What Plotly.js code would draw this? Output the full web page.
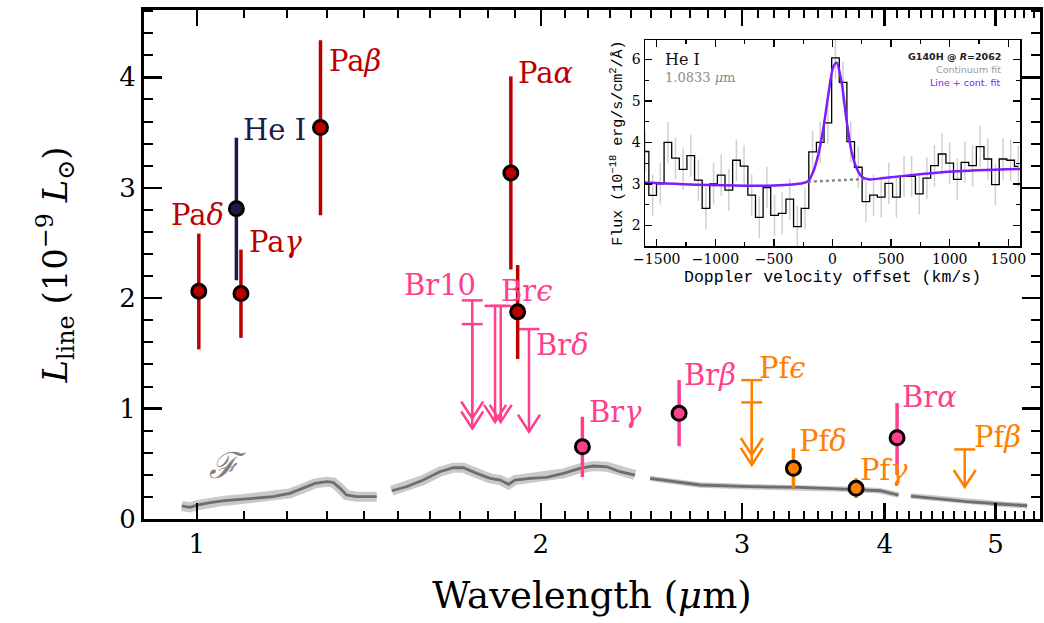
<!DOCTYPE html>
<html><head><meta charset="utf-8">
<script src="https://cdn.plot.ly/plotly-3.0.1.min.js"></script>
<style>html,body{margin:0;padding:0;background:#fff}</style>
</head><body><div id="chart" style="width:1044px;height:623px"></div>
<script>
// ---------- Main panel data ----------
// Paschen (detections), incl. blended point near 1.91 um
const paWave = [1.004, 1.093, 1.283, 1.883, 1.909];
const paLum  = [2.063, 2.042, 3.545, 3.134, 1.876];
const paHi   = [2.585, 2.44, 4.335, 4.009, 2.30];
const paLo   = [1.536, 1.64, 2.751, 2.26, 1.45];
// He I
const heWave = [1.083];
const heLum  = [2.81];
const heHi   = [3.454];
const heLo   = [2.163];
// Brackett detections
const brWave = [2.175, 2.643, 4.101];
const brLum  = [0.654, 0.957, 0.736];
const brHi   = [0.926, 1.258, 1.05];
const brLo   = [0.38, 0.66, 0.40];
// Pfund detections
const pfWave = [3.328, 3.776];
const pfLum  = [0.459, 0.278];
const pfHi   = [0.64, 0.37];
const pfLo   = [0.28, 0.19];
// Upper limits (cap value and arrow tip)
const brLimWave = [1.742, 1.742, 1.824, 1.845, 1.953];
const brLimTop  = [1.98, 1.765, 1.93, 1.93, 1.72];
const brLimTip  = [0.91, 0.82, 0.88, 0.88, 0.79];
const pfLimWave = [3.06, 3.06, 4.70];
const pfLimTop  = [1.258, 1.056, 0.63];
const pfLimTip  = [0.58, 0.49, 0.29];
// Scaled spectrum F (gaps between detector segments)
const specWave = [0.970,0.986,1.003,1.027,1.058,1.091,1.128,1.166,1.206,1.239,1.269,1.299,1.316,1.335,1.352,1.380,1.437,null,
  1.481,1.526,1.578,1.632,1.677,1.711,1.758,1.806,1.843,1.874,1.899,1.957,2.024,2.094,2.164,2.223,2.285,2.346,2.418,null,
  2.493,2.62,2.757,3.05,3.373,3.73,3.963,4.113,null,
  4.217,4.414,4.72,5.05,5.33];
const specFlux = [0.118,0.106,0.127,0.148,0.166,0.178,0.19,0.202,0.232,0.278,0.323,0.338,0.332,0.278,0.217,0.202,0.202,null,
  0.256,0.292,0.353,0.428,0.464,0.464,0.413,0.368,0.353,0.314,0.353,0.368,0.377,0.413,0.459,0.48,0.473,0.428,0.398,null,
  0.368,0.335,0.308,0.293,0.287,0.269,0.256,0.217,null,
  0.208,0.187,0.157,0.136,0.12];
const xTickVals = [1, 2, 3, 4, 5];
const xTickText = ['1', '2', '3', '4', '5'];

// Line labels
const labelText  = ['Pa<i>δ</i>','He I','Pa<i>γ</i>','Pa<i>β</i>','Pa<i>α</i>','Br10','Br<i>ϵ</i>','Br<i>δ</i>','Br<i>γ</i>','Br<i>β</i>','Pf<i>ϵ</i>','Pf<i>δ</i>','Pf<i>γ</i>','Br<i>α</i>','Pf<i>β</i>'];
const labelGroup = ['pa','he','pa','pa','pa','br','br','br','br','br','pf','pf','pf','br','pf'];
const labelWave  = [1.002,1.170,1.172,1.375,2.021,1.632,1.945,2.089,2.327,2.812,3.253,3.534,3.993,4.381,5.016];
const labelY     = [2.751,3.52,2.507,4.145,4.036,2.118,2.063,1.575,0.968,1.303,1.367,0.706,0.443,1.104,0.742];

// ---------- Inset data (He I 1.0833 um) ----------
const velBins = [-1600,-1535,-1470,-1405,-1340,-1275,-1210,-1145,-1080,-1015,-950,-885,-820,-755,-690,-625,-560,-495,-430,-365,
  -300,-235,-170,-105,-40,25,90,155,220,285,350,415,480,545,610,675,740,805,870,935,1000,1065,1130,1195,1260,1325,1390,1455,1520,1585];
const fluxBins = [3.78,2.72,3.0,4.0,3.62,3.35,3.68,3.09,2.41,3.0,3.21,2.85,3.57,3.43,2.73,2.19,2.91,2.24,2.29,2.63,
  1.97,2.41,3.77,4.0,4.47,6.04,5.45,4.02,3.40,2.57,2.73,2.68,3.01,2.68,3.18,3.18,2.76,3.14,3.44,3.72,3.5,3.11,3.52,3.44,3.9,3.6,2.98,3.6,3.57,3.42];
const fitVel  = [-1600,-1070,-500,-250,-207,-164,-122,-79,-36,6,35,77,119,162,205,247,304,460,744,1028,1600];
const fitFlux = [3.03,2.97,2.96,3.02,3.07,3.30,3.70,4.33,5.15,5.82,5.92,5.45,4.55,3.78,3.38,3.18,3.11,3.15,3.23,3.30,3.36];
const contVel  = [-210, 300];
const contFlux = [3.05, 3.12];

// ---------- styling ----------
const COL = {pa:'#bb0000', he:'#1b1b4b', br:'#ff3f8e', pf:'#ff7f00'};
const SERIF = 'DejaVu Serif';
const MONO = 'Liberation Mono';

function errTrace(wave, lum, hi, lo, color, name) {
  return {
    x: wave, y: lum, type: 'scatter', mode: 'markers', name: name, showlegend: false,
    xaxis: 'x', yaxis: 'y',
    error_y: {type: 'data', symmetric: false,
      array: hi.map((h, i) => h - lum[i]), arrayminus: lo.map((l, i) => lum[i] - l),
      color: color, thickness: 3.5, width: 0},
    marker: {symbol: 'circle', size: 14, color: color, line: {color: '#000', width: 3}}
  };
}
function shaftTrace(wave, top, tip, color) {
  const xs = [], ys = [];
  wave.forEach((w, i) => { xs.push(w, w, null); ys.push(top[i], tip[i], null); });
  return {x: xs, y: ys, type: 'scatter', mode: 'lines', xaxis: 'x', yaxis: 'y', showlegend: false,
    line: {color: color, width: 2.5}, connectgaps: false};
}
function capTrace(wave, top, color) {
  return {x: wave, y: top, type: 'scatter', mode: 'markers', xaxis: 'x', yaxis: 'y', showlegend: false,
    marker: {symbol: 'line-ew', size: 15, line: {color: color, width: 2.5}}};
}

const minorX = [0.9,1.1,1.2,1.3,1.4,1.5,1.6,1.7,1.8,1.9,2.1,2.2,2.3,2.4,2.5,2.6,2.7,2.8,2.9,3.1,3.2,3.3,3.4,3.5,3.6,3.7,3.8,3.9,4.1,4.2,4.3,4.4,4.5,4.6,4.7,4.8,4.9,5.1,5.2,5.3,5.4];

// noisier short-wavelength segments (first two) get a wider light band
const cut = specWave.indexOf(null, 18);
const traces = [
  {x: specWave.slice(0, cut), y: specFlux.slice(0, cut), type: 'scatter', mode: 'lines', xaxis: 'x', yaxis: 'y', showlegend: false,
   line: {color: '#c9c9c9', width: 10}, connectgaps: false},
  {x: specWave.slice(cut + 1), y: specFlux.slice(cut + 1), type: 'scatter', mode: 'lines', xaxis: 'x', yaxis: 'y', showlegend: false,
   line: {color: '#c9c9c9', width: 5.5}, connectgaps: false},
  {x: specWave, y: specFlux, type: 'scatter', mode: 'lines', xaxis: 'x', yaxis: 'y', showlegend: false,
   line: {color: '#6e6e6e', width: 2.8}, connectgaps: false},
  shaftTrace(brLimWave, brLimTop, brLimTip, COL.br),
  shaftTrace(pfLimWave, pfLimTop, pfLimTip, COL.pf),
  capTrace(brLimWave, brLimTop, COL.br),
  capTrace(pfLimWave, pfLimTop, COL.pf),
  errTrace(paWave, paLum, paHi, paLo, COL.pa, 'Paschen'),
  errTrace(heWave, heLum, heHi, heLo, COL.he, 'He I'),
  errTrace(brWave, brLum, brHi, brLo, COL.br, 'Brackett'),
  errTrace(pfWave, pfLum, pfHi, pfLo, COL.pf, 'Pfund'),
  // inset
  {x: velBins, y: fluxBins, type: 'scatter', mode: 'lines', xaxis: 'x2', yaxis: 'y2', showlegend: false,
   line: {color: '#000', width: 1.3, shape: 'hvh'},
   error_y: {type: 'constant', value: 0.5, color: 'rgba(150,150,150,0.45)', thickness: 1.5, width: 0}},
  {x: contVel, y: contFlux, type: 'scatter', mode: 'lines', xaxis: 'x2', yaxis: 'y2', showlegend: false,
   line: {color: '#888', width: 2.5, dash: 'dot'}},
  {x: fitVel, y: fitFlux, type: 'scatter', mode: 'lines', xaxis: 'x2', yaxis: 'y2', showlegend: false,
   line: {color: '#7d1cff', width: 2.5, shape: 'spline', smoothing: 0.8}}
];

// chevron arrow heads at the limit tips (fixed pixel size, anchored on data)
const shapes = [];
function addHeads(wave, tip, color) {
  wave.forEach((w, i) => {
    shapes.push({type: 'path', xref: 'x', yref: 'y', xsizemode: 'pixel', ysizemode: 'pixel',
      xanchor: w, yanchor: tip[i], path: 'M-11,17L0,0L11,17', layer: 'above',
      line: {color: color, width: 2.5}});
  });
}
addHeads(brLimWave, brLimTip, COL.br);
addHeads(pfLimWave, pfLimTip, COL.pf);

const annotations = [];
labelText.forEach((t, i) => {
  annotations.push({x: Math.log10(labelWave[i]), y: labelY[i], xref: 'x', yref: 'y', text: t, showarrow: false,
    xanchor: 'center', yanchor: 'middle', font: {family: SERIF, size: 29, color: COL[labelGroup[i]]}});
});
annotations.push({x: Math.log10(1.0645), y: 0.489, xref: 'x', yref: 'y', text: '<i>ℱ</i>', showarrow: false,
  font: {family: SERIF, size: 36, color: '#808080'}});

// inset texts
annotations.push({x: 0.579, y: 0.902, xref: 'paper', yref: 'paper', xanchor: 'left', yanchor: 'middle', showarrow: false,
  text: 'He I', font: {family: SERIF, size: 16, color: '#111'}});
annotations.push({x: 0.579, y: 0.868, xref: 'paper', yref: 'paper', xanchor: 'left', yanchor: 'middle', showarrow: false,
  text: '1.0833 <i>μ</i>m', font: {family: SERIF, size: 13, color: '#8a8a8a'}});
annotations.push({x: 0.9587, y: 0.9077, xref: 'paper', yref: 'paper', xanchor: 'right', yanchor: 'middle', showarrow: false,
  text: '<b>G140H @ <i>R</i>=2062</b>', font: {family: 'DejaVu Sans', size: 9.5, color: '#222'}});
annotations.push({x: 0.9587, y: 0.8831, xref: 'paper', yref: 'paper', xanchor: 'right', yanchor: 'middle', showarrow: false,
  text: 'Continuum fit', font: {family: 'DejaVu Sans', size: 9.5, color: '#9a9a9a'}});
annotations.push({x: 0.9587, y: 0.8585, xref: 'paper', yref: 'paper', xanchor: 'right', yanchor: 'middle', showarrow: false,
  text: 'Line + cont. fit', font: {family: 'DejaVu Sans', size: 9.5, color: '#7d1cff'}});

const layout = {
  width: 1044, height: 623,
  margin: {l: 144, r: 4, t: 10, b: 104},
  paper_bgcolor: '#fff', plot_bgcolor: '#fff',
  showlegend: false,
  xaxis: {
    type: 'log', range: [Math.log10(0.899), Math.log10(5.47)], domain: [0, 1], anchor: 'y',
    tickmode: 'array', tickvals: xTickVals, ticktext: xTickText,
    ticks: 'inside', ticklen: 16, tickwidth: 2.5, tickcolor: '#000',
    minor: {tickmode: 'array', tickvals: minorX, ticks: 'inside', ticklen: 8, tickwidth: 2, tickcolor: '#000', showgrid: false},
    showline: true, linewidth: 3, linecolor: '#000', mirror: 'ticks',
    showgrid: false, zeroline: false,
    tickfont: {family: SERIF, size: 26, color: '#000'},
    title: {text: 'Wavelength (<i>μ</i>m)', font: {family: SERIF, size: 37, color: '#000'}, standoff: 24}
  },
  yaxis: {
    range: [0, 4.61], domain: [0, 1], anchor: 'x', dtick: 1, tick0: 0,
    ticks: 'inside', ticklen: 18, tickwidth: 2.5, tickcolor: '#000',
    minor: {dtick: 0.2, tick0: 0, ticks: 'inside', ticklen: 9, tickwidth: 2, tickcolor: '#000', showgrid: false},
    showline: true, linewidth: 3, linecolor: '#000', mirror: 'ticks',
    showgrid: false, zeroline: false,
    tickfont: {family: SERIF, size: 26, color: '#000'},
    title: {text: '<i>L</i><sub>line</sub> (10<sup>−9</sup> <i>L</i><sub>⊙</sub>)', font: {family: SERIF, size: 34, color: '#000'}, standoff: 42}
  },
  xaxis2: {
    domain: [0.5592, 0.9777], anchor: 'y2', range: [-1600, 1600], dtick: 500, tick0: 0,
    ticks: 'inside', ticklen: 7, tickwidth: 1.3, tickcolor: '#000',
    minor: {dtick: 250, tick0: 0, ticks: 'inside', ticklen: 4, tickwidth: 1.2, tickcolor: '#000', showgrid: false},
    showline: true, linewidth: 1.5, linecolor: '#000', mirror: 'ticks',
    showgrid: false, zeroline: false,
    tickfont: {family: SERIF, size: 14, color: '#000'},
    title: {text: 'Doppler velocity offset (km/s)', font: {family: MONO, size: 16.5, color: '#000'}, standoff: 4}
  },
  yaxis2: {
    domain: [0.5363, 0.941], anchor: 'x2', range: [1.5, 6.47], dtick: 1, tick0: 0,
    ticks: 'inside', ticklen: 7, tickwidth: 1.3, tickcolor: '#000',
    minor: {dtick: 0.5, tick0: 0, ticks: 'inside', ticklen: 4, tickwidth: 1.2, tickcolor: '#000', showgrid: false},
    showline: true, linewidth: 1.5, linecolor: '#000', mirror: 'ticks',
    showgrid: false, zeroline: false,
    tickfont: {family: SERIF, size: 14, color: '#000'},
    title: {text: 'Flux (10<sup>−18</sup> erg/s/cm<sup>2</sup>/Å)', font: {family: MONO, size: 15, color: '#000'}, standoff: 5}
  },
  shapes: shapes,
  annotations: annotations
};

Plotly.newPlot('chart', traces, layout, {staticPlot: true, displayModeBar: false});
</script></body></html>
